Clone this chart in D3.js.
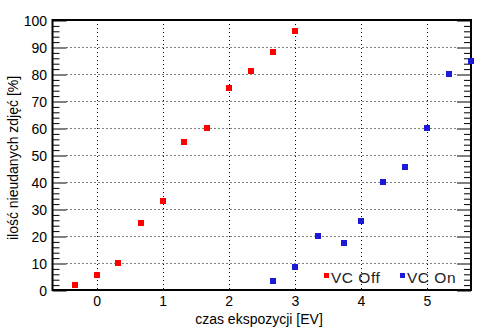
<!DOCTYPE html>
<html><head><meta charset="utf-8">
<script src="https://cdn.jsdelivr.net/npm/d3@7"></script>
<style>
html,body{margin:0;padding:0;background:#fff;}
svg{display:block;font-family:"Liberation Sans",Arial,sans-serif;}
</style></head>
<body><svg id="c" width="494" height="331"></svg>
<script>
const xTicks = [0, 1, 2, 3, 4, 5];
const yTicks = [0, 10, 20, 30, 40, 50, 60, 70, 80, 90, 100];
const yMinor = [2,4,6,8,12,14,16,18,22,24,26,28,32,34,36,38,42,44,46,48,52,54,56,58,62,64,66,68,72,74,76,78,82,84,86,88,92,94,96,98];
const seriesNames = ["VC Off", "VC On"];
const offX = [-0.33, 0, 0.33, 0.67, 1, 1.33, 1.67, 2, 2.33, 2.67, 3];
const offY = [2, 5.5, 10, 25, 33, 55, 60, 75, 81, 88, 96];
const onX = [2.67, 3, 3.35, 3.75, 4, 4.33, 4.67, 5, 5.33, 5.67];
const onY = [3.5, 8.5, 20, 17.5, 25.5, 40, 45.5, 60, 80, 85];
const colors = ["#ff0000", "#1a1ad8"];

const L = 52.5, R = 471, T = 20, B = 290;
const x = d3.scaleLinear().domain([-2/3, 17/3]).range([L, R]);
const y = d3.scaleLinear().domain([0, 100]).range([B, T]);
const svg = d3.select("#c");

// grid
const g = svg.append("g");
g.selectAll(".vg").data(xTicks).join("line")
  .attr("x1", d => Math.round(x(d)) + 0.5).attr("x2", d => Math.round(x(d)) + 0.5)
  .attr("y1", T).attr("y2", B)
  .attr("stroke", "#000").attr("stroke-width", 1).attr("stroke-dasharray", "1,3");
g.selectAll(".hg").data(yTicks.filter(d => d > 0 && d < 100)).join("line")
  .attr("x1", L + 14).attr("x2", R - 14)
  .attr("y1", d => Math.round(y(d)) + 0.5).attr("y2", d => Math.round(y(d)) + 0.5)
  .attr("stroke", "#000").attr("stroke-width", 1).attr("stroke-dasharray", "1,3");

function tickAxis(gen, xpos, vals, size) {
  const a = svg.append("g").attr("transform", `translate(${xpos},0.5)`)
    .call(gen(y).tickValues(vals).tickSize(size).tickFormat(""));
  a.select(".domain").remove();
  a.selectAll("line").attr("stroke", "#000").attr("stroke-width", 1);
}
tickAxis(d3.axisRight, L, yMinor, 7);
tickAxis(d3.axisRight, L, yTicks, 14);
tickAxis(d3.axisLeft, R, yMinor, 7);
tickAxis(d3.axisLeft, R, yTicks, 14);

// frame
svg.append("rect").attr("x", L).attr("y", T).attr("width", R - L).attr("height", B - T)
  .attr("fill", "none").attr("stroke", "#000").attr("stroke-width", 2);

// labels
const yl = svg.append("g").attr("transform", `translate(${L - 0.5},0)`)
  .call(d3.axisLeft(y).tickValues(yTicks).tickSize(0).tickPadding(5).tickFormat(d3.format("d")));
yl.select(".domain").remove();
yl.selectAll("text").attr("font-size", 14).attr("font-family", "Liberation Sans").attr("fill", "#000").attr("dy", "0.36em");

const xl = svg.append("g").attr("transform", `translate(0,${B})`)
  .call(d3.axisBottom(x).tickValues(xTicks).tickSize(0).tickPadding(5).tickFormat(d3.format("d")));
xl.select(".domain").remove();
xl.selectAll("text").attr("font-size", 14).attr("font-family", "Liberation Sans").attr("fill", "#000").attr("dy", "0.75em");

svg.append("text").attr("x", 259).attr("y", 324).attr("text-anchor", "middle")
  .attr("font-size", 14).text("czas ekspozycji [EV]");
svg.append("text").attr("transform", "translate(18,158) rotate(-90)").attr("text-anchor", "middle")
  .attr("font-size", 14).text("ilość nieudanych zdjęć [%]");

// points
const ms = 6;
function pts(xs, ys, c) {
  svg.append("g").selectAll("rect").data(xs.map((v, i) => [v, ys[i]])).join("rect")
    .attr("x", d => Math.round(x(d[0]) - ms / 2)).attr("y", d => Math.round(y(d[1]) - ms / 2))
    .attr("width", ms).attr("height", ms).attr("fill", c);
}
pts(offX, offY, colors[0]);
pts(onX, onY, colors[1]);

// legend
const legX = [3.47, 4.63];
seriesNames.forEach((n, i) => {
  const lx = Math.round(x(legX[i]));
  svg.append("rect").attr("x", lx - 2).attr("y", 273).attr("width", 5).attr("height", 5).attr("fill", colors[i]);
  svg.append("text").attr("x", lx + 5).attr("y", 282.5).attr("font-size", 15.5)
    .attr("letter-spacing", "0.5px").attr("fill", "#222").text(n);
});
</script></body></html>
